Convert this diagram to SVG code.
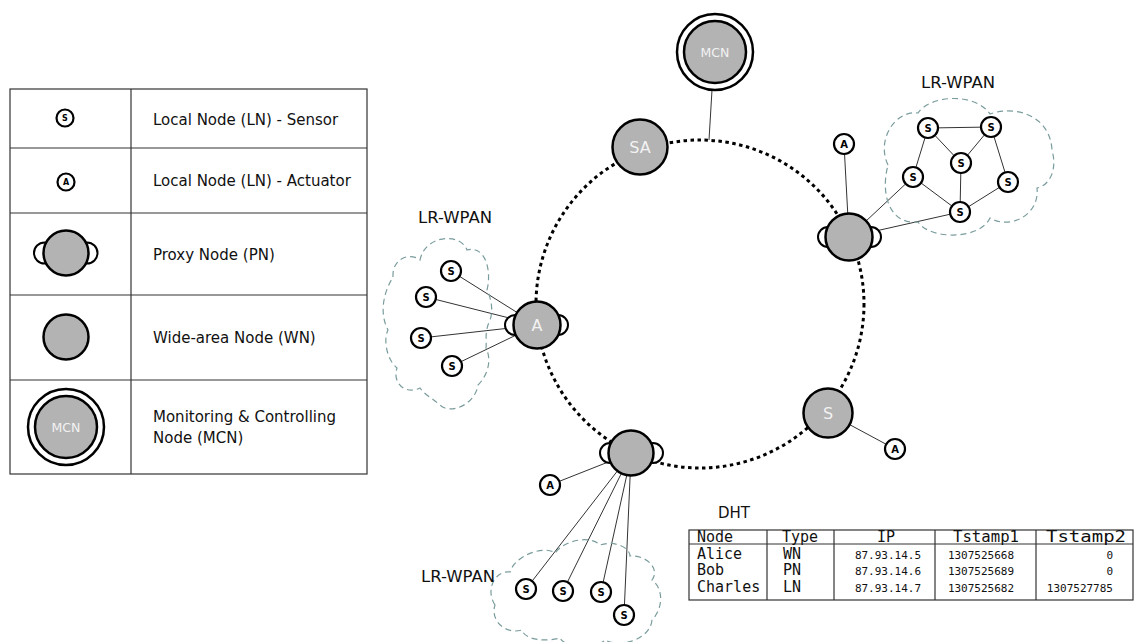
<svg xmlns="http://www.w3.org/2000/svg" width="1134" height="642" viewBox="0 0 1134 642">
<style>
.big{fill:#b3b3b3;stroke:#000;stroke-width:2.5}
.ear{fill:#fff;stroke:#000;stroke-width:2}
.sm{fill:#fff;stroke:#000;stroke-width:2.2}
.ring{fill:none;stroke:#000;stroke-width:3;stroke-dasharray:3.5 3.5}
.edge{stroke:#333;stroke-width:1;fill:none}
.cloud{fill:none;stroke:#7a9c9c;stroke-width:1.2;stroke-dasharray:6 4}
.grid{fill:none;stroke:#333;stroke-width:1.2}
.t{font-family:"DejaVu Sans",Verdana,sans-serif;font-size:15px;fill:#111}
.wl{font-family:"DejaVu Sans",Verdana,sans-serif;font-size:16.5px;fill:#111;text-anchor:middle}
.bl{font-family:"DejaVu Sans",Verdana,sans-serif;font-size:16px;fill:#f2f2f2;text-anchor:middle}
.ml{font-family:"DejaVu Sans",Verdana,sans-serif;font-size:12.5px;fill:#f2f2f2;text-anchor:middle}
.sl{font-family:"DejaVu Sans",Verdana,sans-serif;font-size:10px;font-weight:bold;fill:#000;text-anchor:middle}
.ll{font-family:"DejaVu Sans",Verdana,sans-serif;font-size:8px;font-weight:bold;fill:#000;text-anchor:middle}
.mono{font-family:"DejaVu Sans Mono","Liberation Mono",monospace;font-size:15px;fill:#111}
.mono2{font-family:"DejaVu Sans Mono","Liberation Mono",monospace;font-size:11px;fill:#111}
</style>

<!-- Legend -->
<g id="legend">
  <rect class="grid" x="10" y="89" width="357" height="385"/>
  <line class="grid" x1="131" y1="89" x2="131" y2="474"/>
  <line class="grid" x1="10" y1="148" x2="367" y2="148"/>
  <line class="grid" x1="10" y1="213" x2="367" y2="213"/>
  <line class="grid" x1="10" y1="295" x2="367" y2="295"/>
  <line class="grid" x1="10" y1="380" x2="367" y2="380"/>
  <circle class="sm" cx="65" cy="118" r="8.5" stroke-width="2"/>
  <text class="ll" x="65" y="121">S</text>
  <text class="t" x="153" y="125">Local Node (LN) - Sensor</text>
  <circle class="sm" cx="66" cy="182" r="8.5" stroke-width="2"/>
  <text class="ll" x="66" y="185">A</text>
  <text class="t" x="153" y="186">Local Node (LN) - Actuator</text>
  <circle class="ear" cx="44.5" cy="253" r="10.5"/>
  <circle class="ear" cx="87" cy="253" r="10.5"/>
  <circle class="big" cx="66" cy="253" r="22.5"/>
  <text class="t" x="153" y="260">Proxy Node (PN)</text>
  <circle class="big" cx="66" cy="337" r="22.5"/>
  <text class="t" x="153" y="343">Wide-area Node (WN)</text>
  <circle cx="66" cy="427" r="38" fill="#fff" stroke="#000" stroke-width="2.5"/>
  <circle class="big" cx="66" cy="427" r="31"/>
  <text class="ml" x="66" y="431.5">MCN</text>
  <text class="t" x="153" y="422">Monitoring &amp; Controlling</text>
  <text class="t" x="153" y="443">Node (MCN)</text>
</g>

<!-- Connectors -->
<g id="connectors">
  <circle class="ring" cx="700" cy="304" r="164"/>
  <line class="edge" x1="712" y1="90" x2="709" y2="140"/>
  <line class="edge" x1="844" y1="144" x2="849" y2="237"/>
  <line class="edge" x1="849" y1="237" x2="913" y2="177"/>
  <line class="edge" x1="849" y1="237" x2="960" y2="212"/>
  <line class="edge" x1="928" y1="128" x2="991" y2="127"/>
  <line class="edge" x1="928" y1="128" x2="961" y2="163"/>
  <line class="edge" x1="991" y1="127" x2="961" y2="163"/>
  <line class="edge" x1="928" y1="128" x2="913" y2="177"/>
  <line class="edge" x1="991" y1="127" x2="1008" y2="182"/>
  <line class="edge" x1="961" y1="163" x2="960" y2="212"/>
  <line class="edge" x1="913" y1="177" x2="960" y2="212"/>
  <line class="edge" x1="1008" y1="182" x2="960" y2="212"/>
  <line class="edge" x1="451" y1="271" x2="537" y2="325"/>
  <line class="edge" x1="426" y1="297" x2="537" y2="325"/>
  <line class="edge" x1="421" y1="338" x2="537" y2="325"/>
  <line class="edge" x1="452" y1="366" x2="537" y2="325"/>
  <line class="edge" x1="550" y1="485" x2="631" y2="453"/>
  <line class="edge" x1="526" y1="589" x2="629" y2="456"/>
  <line class="edge" x1="563" y1="591" x2="630" y2="456"/>
  <line class="edge" x1="601" y1="592" x2="631" y2="456"/>
  <line class="edge" x1="624" y1="615" x2="631" y2="456"/>
  <line class="edge" x1="828" y1="413" x2="895" y2="449"/>
</g>

<!-- Clouds -->
<g id="clouds">
  <path class="cloud" d="M 888,165 C 876,140 895,110 918,113 C 930,95 975,92 990,114 C 1015,105 1050,115 1052,150 C 1058,172 1048,186 1037,188 C 1040,215 1010,230 990,218 C 980,240 930,240 918,222 C 890,225 880,195 888,165 Z"/>
  <path class="cloud" d="M 393,277 C 392,258 410,252 420,260 C 425,235 460,232 467,250 C 485,245 492,270 487,290 C 492,300 493,312 490,320 C 484,333 487,340 486,348 C 492,360 488,375 478,385 C 475,405 450,415 440,405 C 432,398 425,395 420,388 C 405,395 392,383 397,368 C 387,360 383,340 388,330 C 380,315 382,295 393,277 Z"/>
  <path class="cloud" d="M 495,605 C 485,590 495,570 510,572 C 515,555 545,545 555,553 C 565,540 590,535 600,545 C 615,540 630,548 630,556 C 648,555 660,570 652,580 C 665,590 662,610 652,620 C 650,640 620,648 605,640 C 595,650 565,648 560,638 C 545,642 525,640 522,630 C 505,635 490,620 495,605 Z"/>
</g>

<!-- Labels -->
<text class="wl" x="958" y="88">LR-WPAN</text>
<text class="wl" x="455" y="223">LR-WPAN</text>
<text class="wl" x="458" y="582">LR-WPAN</text>

<!-- Nodes -->
<g id="mcn">
  <circle cx="715" cy="52" r="38" fill="#fff" stroke="#000" stroke-width="2.5"/>
  <circle class="big" cx="715" cy="52" r="31"/>
  <text class="ml" x="715" y="56.5">MCN</text>
</g>
<g id="sa">
  <circle class="big" cx="640" cy="147" r="27.5"/>
  <text class="bl" x="640" y="153">SA</text>
</g>
<g id="pn-a">
  <circle class="ear" cx="515" cy="325" r="10"/>
  <circle class="ear" cx="558" cy="325" r="10"/>
  <circle class="big" cx="537" cy="325" r="23.5"/>
  <text class="bl" x="537" y="331">A</text>
</g>
<g id="pn-right">
  <circle class="ear" cx="828" cy="237" r="10"/>
  <circle class="ear" cx="871" cy="237" r="10"/>
  <circle class="big" cx="849" cy="237" r="23.5"/>
</g>
<g id="pn-bottom">
  <circle class="ear" cx="610" cy="453" r="10"/>
  <circle class="ear" cx="653" cy="453" r="10"/>
  <circle class="big" cx="631" cy="453" r="22.5"/>
</g>
<g id="wn-s">
  <circle class="big" cx="828" cy="413" r="24.5"/>
  <text class="bl" x="828" y="419">S</text>
</g>

<g id="ln-right">
  <g id="r-a"><circle class="sm" cx="844" cy="144" r="10"/><text class="sl" x="844" y="147.5">A</text></g>
  <g id="r-s1"><circle class="sm" cx="928" cy="128" r="10"/><text class="sl" x="928" y="131.5">S</text></g>
  <g id="r-s2"><circle class="sm" cx="991" cy="127" r="10"/><text class="sl" x="991" y="130.5">S</text></g>
  <g id="r-s3"><circle class="sm" cx="961" cy="163" r="10"/><text class="sl" x="961" y="166.5">S</text></g>
  <g id="r-s4"><circle class="sm" cx="913" cy="177" r="10"/><text class="sl" x="913" y="180.5">S</text></g>
  <g id="r-s5"><circle class="sm" cx="1008" cy="182" r="10"/><text class="sl" x="1008" y="185.5">S</text></g>
  <g id="r-s6"><circle class="sm" cx="960" cy="212" r="10"/><text class="sl" x="960" y="215.5">S</text></g>
</g>
<g id="ln-left">
  <g id="l-s1"><circle class="sm" cx="451" cy="271" r="10"/><text class="sl" x="451" y="274.5">S</text></g>
  <g id="l-s2"><circle class="sm" cx="426" cy="297" r="10"/><text class="sl" x="426" y="300.5">S</text></g>
  <g id="l-s3"><circle class="sm" cx="421" cy="338" r="10"/><text class="sl" x="421" y="341.5">S</text></g>
  <g id="l-s4"><circle class="sm" cx="452" cy="366" r="10"/><text class="sl" x="452" y="369.5">S</text></g>
</g>
<g id="ln-bottom">
  <g id="b-a"><circle class="sm" cx="550" cy="485" r="10"/><text class="sl" x="550" y="488.5">A</text></g>
  <g id="b-s1"><circle class="sm" cx="526" cy="589" r="10"/><text class="sl" x="526" y="592.5">S</text></g>
  <g id="b-s2"><circle class="sm" cx="563" cy="591" r="10"/><text class="sl" x="563" y="594.5">S</text></g>
  <g id="b-s3"><circle class="sm" cx="601" cy="592" r="10"/><text class="sl" x="601" y="595.5">S</text></g>
  <g id="b-s4"><circle class="sm" cx="624" cy="615" r="10"/><text class="sl" x="624" y="618.5">S</text></g>
</g>
<g id="ln-s">
  <circle class="sm" cx="895" cy="449" r="10"/><text class="sl" x="895" y="452.5">A</text>
</g>

<!-- DHT -->
<g id="dht">
  <text class="t" x="718" y="518" font-size="16">DHT</text>
  <rect class="grid" x="689" y="530" width="444" height="70"/>
  <line class="grid" x1="689" y1="544" x2="1133" y2="544"/>
  <line class="grid" x1="767" y1="530" x2="767" y2="600"/>
  <line class="grid" x1="834" y1="530" x2="834" y2="600"/>
  <line class="grid" x1="935" y1="530" x2="935" y2="600"/>
  <line class="grid" x1="1036" y1="530" x2="1036" y2="600"/>
  <text class="mono" x="697" y="542">Node</text>
  <text class="mono" x="782" y="542">Type</text>
  <text class="mono" x="877" y="542">IP</text>
  <text class="mono" x="953" y="542" textLength="66" lengthAdjust="spacingAndGlyphs">Tstamp1</text>
  <text class="mono" x="1046" y="542" textLength="80" lengthAdjust="spacingAndGlyphs">Tstamp2</text>
  <text class="mono" x="697" y="559">Alice</text>
  <text class="mono" x="697" y="575">Bob</text>
  <text class="mono" x="697" y="592">Charles</text>
  <text class="mono" x="783" y="559">WN</text>
  <text class="mono" x="783" y="575">PN</text>
  <text class="mono" x="783" y="592">LN</text>
  <text class="mono2" x="888" y="559" text-anchor="middle">87.93.14.5</text>
  <text class="mono2" x="888" y="575" text-anchor="middle">87.93.14.6</text>
  <text class="mono2" x="888" y="592" text-anchor="middle">87.93.14.7</text>
  <text class="mono2" x="981" y="559" text-anchor="middle">1307525668</text>
  <text class="mono2" x="981" y="575" text-anchor="middle">1307525689</text>
  <text class="mono2" x="981" y="592" text-anchor="middle">1307525682</text>
  <text class="mono2" x="1113" y="559" text-anchor="end">0</text>
  <text class="mono2" x="1113" y="575" text-anchor="end">0</text>
  <text class="mono2" x="1113" y="592" text-anchor="end">1307527785</text>
</g>
</svg>
